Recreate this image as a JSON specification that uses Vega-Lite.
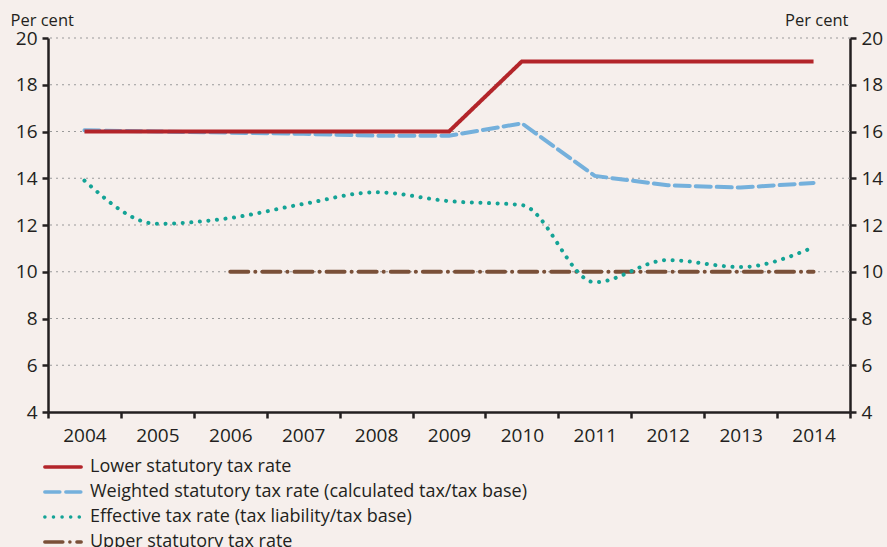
{
  "$schema": "https://vega.github.io/schema/vega-lite/v6.json",
  "width": 802,
  "height": 374,
  "autosize": {"type": "none"},
  "padding": {"left": 48, "top": 38, "right": 37, "bottom": 135},
  "background": "#f6efec",
  "config": {
    "view": {"stroke": null},
    "font": "Open Sans",
    "axis": {"labelFont": "Open Sans", "labelFontSize": 19, "labelColor": "#231f20", "titleFont": "Open Sans", "titleFontWeight": "normal", "titleFontSize": 16.5, "titleColor": "#231f20", "domainColor": "#231f20", "domainWidth": 2.5, "tickColor": "#231f20", "tickWidth": 2.5, "tickSize": 6},
    "legend": {"labelFont": "Open Sans", "labelFontSize": 18, "labelColor": "#231f20", "labelLimit": 800}
  },
  "data": {"values": [
    {"year": "2004", "series": "Lower statutory tax rate", "v": 16},
    {"year": "2005", "series": "Lower statutory tax rate", "v": 16},
    {"year": "2006", "series": "Lower statutory tax rate", "v": 16},
    {"year": "2007", "series": "Lower statutory tax rate", "v": 16},
    {"year": "2008", "series": "Lower statutory tax rate", "v": 16},
    {"year": "2009", "series": "Lower statutory tax rate", "v": 16},
    {"year": "2010", "series": "Lower statutory tax rate", "v": 19},
    {"year": "2011", "series": "Lower statutory tax rate", "v": 19},
    {"year": "2012", "series": "Lower statutory tax rate", "v": 19},
    {"year": "2013", "series": "Lower statutory tax rate", "v": 19},
    {"year": "2014", "series": "Lower statutory tax rate", "v": 19},
    {"year": "2004", "series": "Weighted statutory tax rate (calculated tax/tax base)", "v": 16.05},
    {"year": "2005", "series": "Weighted statutory tax rate (calculated tax/tax base)", "v": 16.0},
    {"year": "2006", "series": "Weighted statutory tax rate (calculated tax/tax base)", "v": 15.95},
    {"year": "2007", "series": "Weighted statutory tax rate (calculated tax/tax base)", "v": 15.9},
    {"year": "2008", "series": "Weighted statutory tax rate (calculated tax/tax base)", "v": 15.82},
    {"year": "2009", "series": "Weighted statutory tax rate (calculated tax/tax base)", "v": 15.82},
    {"year": "2010", "series": "Weighted statutory tax rate (calculated tax/tax base)", "v": 16.35},
    {"year": "2011", "series": "Weighted statutory tax rate (calculated tax/tax base)", "v": 14.1},
    {"year": "2012", "series": "Weighted statutory tax rate (calculated tax/tax base)", "v": 13.7},
    {"year": "2013", "series": "Weighted statutory tax rate (calculated tax/tax base)", "v": 13.6},
    {"year": "2014", "series": "Weighted statutory tax rate (calculated tax/tax base)", "v": 13.8},
    {"year": "2004", "series": "Effective tax rate (tax liability/tax base)", "v": 13.9},
    {"year": "2005", "series": "Effective tax rate (tax liability/tax base)", "v": 12.05},
    {"year": "2006", "series": "Effective tax rate (tax liability/tax base)", "v": 12.3},
    {"year": "2007", "series": "Effective tax rate (tax liability/tax base)", "v": 12.9},
    {"year": "2008", "series": "Effective tax rate (tax liability/tax base)", "v": 13.4},
    {"year": "2009", "series": "Effective tax rate (tax liability/tax base)", "v": 13.02},
    {"year": "2010", "series": "Effective tax rate (tax liability/tax base)", "v": 12.85},
    {"year": "2011", "series": "Effective tax rate (tax liability/tax base)", "v": 9.55},
    {"year": "2012", "series": "Effective tax rate (tax liability/tax base)", "v": 10.5},
    {"year": "2013", "series": "Effective tax rate (tax liability/tax base)", "v": 10.2},
    {"year": "2014", "series": "Effective tax rate (tax liability/tax base)", "v": 11.05},
    {"year": "2006", "series": "Upper statutory tax rate", "v": 10},
    {"year": "2007", "series": "Upper statutory tax rate", "v": 10},
    {"year": "2008", "series": "Upper statutory tax rate", "v": 10},
    {"year": "2009", "series": "Upper statutory tax rate", "v": 10},
    {"year": "2010", "series": "Upper statutory tax rate", "v": 10},
    {"year": "2011", "series": "Upper statutory tax rate", "v": 10},
    {"year": "2012", "series": "Upper statutory tax rate", "v": 10},
    {"year": "2013", "series": "Upper statutory tax rate", "v": 10},
    {"year": "2014", "series": "Upper statutory tax rate", "v": 10}
  ]},
  "encoding": {
    "x": {"field": "year", "type": "ordinal", "bandPosition": 0.5,
      "scale": {"type": "band", "paddingInner": 0, "paddingOuter": 0, "domain": ["2004","2005","2006","2007","2008","2009","2010","2011","2012","2013","2014"]},
      "axis": {"title": null, "labelAngle": 0, "tickBand": "extent", "grid": false, "labelPadding": 8}},
    "y": {"field": "v", "type": "quantitative", "scale": {"domain": [4, 20], "nice": false, "zero": false}, "axis": null},
    "color": {"field": "series", "type": "nominal",
      "scale": {"domain": ["Lower statutory tax rate", "Weighted statutory tax rate (calculated tax/tax base)", "Effective tax rate (tax liability/tax base)", "Upper statutory tax rate"],
                "range": ["#b3252a", "#74b0dc", "#14a396", "#7a5038"]},
      "legend": {"title": null, "orient": "none", "legendX": 4, "legendY": 418, "direction": "vertical", "symbolType": "M-2,0H2", "symbolSize": 330, "symbolStrokeWidth": 3.5, "rowPadding": 5, "labelOffset": 16,
        "encode": {"symbols": {"update": {"strokeCap": {"value": "round"}}}}}},
    "strokeDash": {"field": "series", "type": "nominal",
      "scale": {"domain": ["Lower statutory tax rate", "Weighted statutory tax rate (calculated tax/tax base)", "Effective tax rate (tax liability/tax base)", "Upper statutory tax rate"],
                "range": [[1, 0], [15, 6], [0.1, 8.5], [18, 7, 0.1, 7]]},
      "legend": {"title": null, "orient": "none", "legendX": 4, "legendY": 418, "direction": "vertical", "symbolType": "M-2,0H2", "symbolSize": 330, "symbolStrokeWidth": 3.5, "rowPadding": 5, "labelOffset": 16,
        "encode": {"symbols": {"update": {"strokeCap": {"value": "round"}}}}}}
  },
  "layer": [
    {
      "mark": {"type": "rule", "strokeDash": [2, 4], "color": "#9a9a9a", "strokeWidth": 1.2},
      "data": {"values": [{"g": 6}, {"g": 8}, {"g": 10}, {"g": 12}, {"g": 14}, {"g": 16}, {"g": 18}, {"g": 20}]},
      "encoding": {"y": {"field": "g", "type": "quantitative", "axis": null}, "x": null, "color": null, "strokeDash": null}
    },
    {
      "transform": [{"filter": "datum.series === 'Upper statutory tax rate'"}],
      "mark": {"type": "line", "strokeWidth": 4, "strokeCap": "round"}
    },
    {
      "transform": [{"filter": "datum.series === 'Effective tax rate (tax liability/tax base)'"}],
      "mark": {"type": "line", "strokeWidth": 4, "strokeCap": "round", "interpolate": "monotone"}
    },
    {
      "transform": [{"filter": "datum.series === 'Weighted statutory tax rate (calculated tax/tax base)'"}],
      "mark": {"type": "line", "strokeWidth": 4, "strokeCap": "round"}
    },
    {
      "transform": [{"filter": "datum.series === 'Lower statutory tax rate'"}],
      "mark": {"type": "line", "strokeWidth": 4}
    },
    {
      "mark": {"type": "point", "opacity": 0},
      "encoding": {
        "color": null, "strokeDash": null,
        "y": {"field": "v", "type": "quantitative", "scale": {"domain": [4, 20], "nice": false, "zero": false},
          "axis": {"orient": "left", "values": [4,6,8,10,12,14,16,18,20], "grid": false, "title": "Per cent", "titleAngle": 0, "titleAlign": "left", "titleBaseline": "alphabetic", "titleX": -38, "titleY": -13, "labelPadding": 5}}
      }
    },
    {
      "mark": {"type": "point", "opacity": 0},
      "encoding": {
        "color": null, "strokeDash": null,
        "y": {"field": "v", "type": "quantitative", "scale": {"domain": [4, 20], "nice": false, "zero": false},
          "axis": {"orient": "right", "values": [4,6,8,10,12,14,16,18,20], "grid": false, "title": "Per cent", "titleAngle": 0, "titleAlign": "right", "titleBaseline": "alphabetic", "titleX": -2, "titleY": -13, "labelPadding": 5}}
      }
    }
  ],
  "resolve": {"axis": {"y": "independent"}}
}
